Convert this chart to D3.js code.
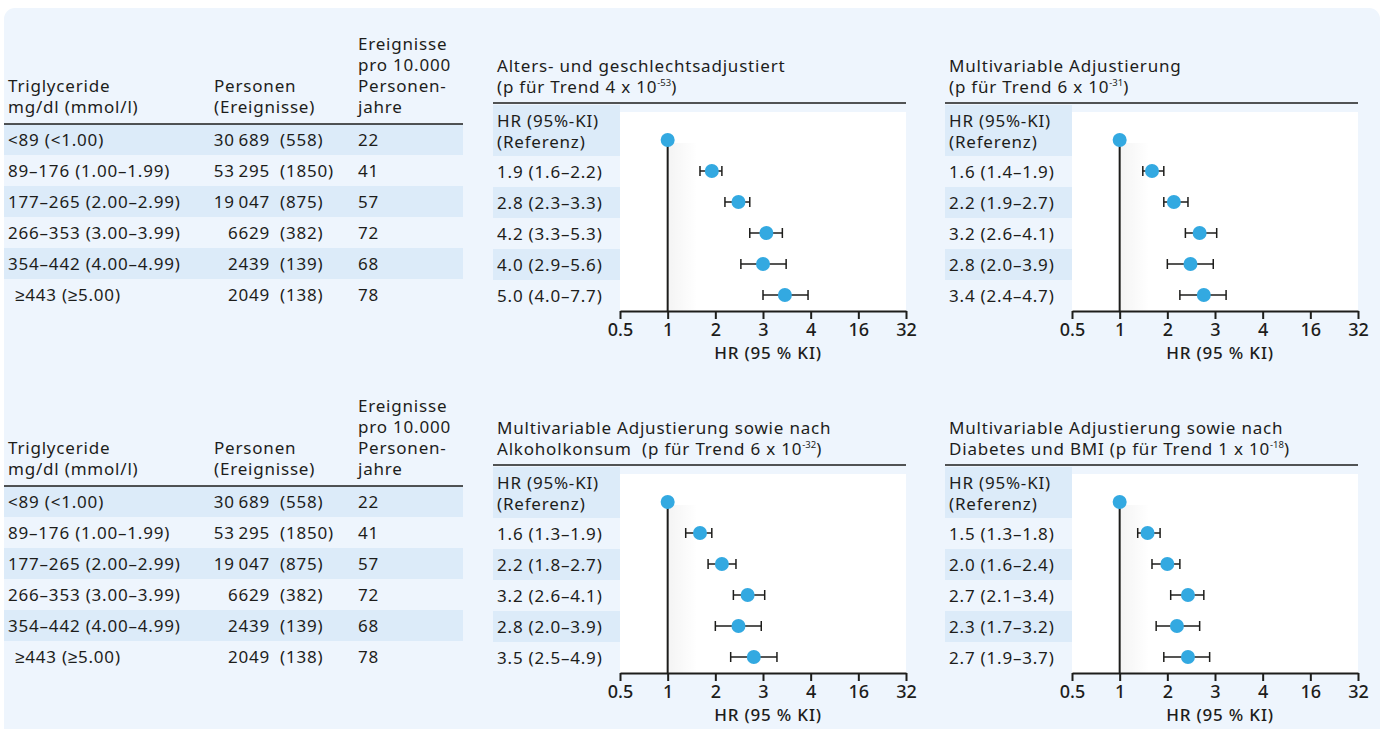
<!DOCTYPE html>
<html><head><meta charset="utf-8">
<script src="https://cdn.jsdelivr.net/npm/d3@7"></script>
<style>
html,body{margin:0;padding:0;background:#fff;}
svg{display:block;}
text{font-family:"Noto Sans",sans-serif;fill:#1d1d1b;}
</style></head>
<body>
<script>
// ---- data ----
const categories = ["<89 (<1.00)","89–176 (1.00–1.99)","177–265 (2.00–2.99)","266–353 (3.00–3.99)","354–442 (4.00–4.99)","≥443 (≥5.00)"];
const persons = ["30\u2009689","53\u2009295","19\u2009047","6629","2439","2049"];
const events = [558,1850,875,382,139,138];
const ratePer10000 = [22,41,57,72,68,78];

const axisTickValues = [0.5,1,2,4,8,16,32];
const axisTickLabels = ["0.5","1","2","3","4","16","32"];

const panelTitles = [
  ["Alters- und geschlechtsadjustiert", ["(p für Trend 4 x 10", "-53", ")"]],
  ["Multivariable Adjustierung", ["(p für Trend 6 x 10", "-31", ")"]],
  ["Multivariable Adjustierung sowie nach", ["Alkoholkonsum\u00a0 (p für Trend 6 x 10", "-32", ")"]],
  ["Multivariable Adjustierung sowie nach", ["Diabetes und BMI (p für Trend 1 x 10", "-18", ")"]]
];
// HR labels as printed
const hrLabels1 = ["1.9 (1.6–2.2)","2.8 (2.3–3.3)","4.2 (3.3–5.3)","4.0 (2.9–5.6)","5.0 (4.0–7.7)"];
const hrLabels2 = ["1.6 (1.4–1.9)","2.2 (1.9–2.7)","3.2 (2.6–4.1)","2.8 (2.0–3.9)","3.4 (2.4–4.7)"];
const hrLabels3 = ["1.6 (1.3–1.9)","2.2 (1.8–2.7)","3.2 (2.6–4.1)","2.8 (2.0–3.9)","3.5 (2.5–4.9)"];
const hrLabels4 = ["1.5 (1.3–1.8)","2.0 (1.6–2.4)","2.7 (2.1–3.4)","2.3 (1.7–3.2)","2.7 (1.9–3.7)"];
// plotted estimates and CIs (as read from the marks)
const hr1 = [1.9,2.8,4.2,4.0,5.5], lo1 = [1.6,2.3,3.3,2.9,4.0], hi1 = [2.2,3.3,5.3,5.6,7.7];
const hr2 = [1.6,2.2,3.2,2.8,3.4], lo2 = [1.4,1.9,2.6,2.0,2.4], hi2 = [1.9,2.7,4.1,3.9,4.7];
const hr3 = [1.6,2.2,3.2,2.8,3.5], lo3 = [1.3,1.8,2.6,2.0,2.5], hi3 = [1.9,2.7,4.1,3.9,4.9];
const hr4 = [1.5,2.0,2.7,2.3,2.7], lo4 = [1.3,1.6,2.1,1.7,1.9], hi4 = [1.8,2.4,3.4,3.2,3.7];
const referenceHR = 1;

// ---- drawing ----
const W = 1386, H = 729;
const BG = "#eef5fd", BAND = "#dcebf9", DOT = "#33a9e1", INK = "#1d1d1b";
const svg = d3.select("body").append("svg").attr("width", W).attr("height", H);
const defs = svg.append("defs");
const grad = defs.append("linearGradient").attr("id","shade").attr("x1","0").attr("x2","1").attr("y1","0").attr("y2","0");
grad.append("stop").attr("offset","0").attr("stop-color","#000").attr("stop-opacity",0.045);
grad.append("stop").attr("offset","1").attr("stop-color","#000").attr("stop-opacity",0);

svg.append("rect").attr("x",4).attr("y",8).attr("width",1376).attr("height",740).attr("rx",11).attr("fill",BG);

const FS = 17, LS = 0.8, ROWH = 31;
function txt(g, x, y, s){
  return g.append("text").attr("x",x).attr("y",y).attr("font-size",FS).attr("letter-spacing",LS).text(s);
}

function drawTable(y0){
  const g = svg.append("g");
  categories.forEach((c,i)=>{
    if(i%2===0) g.append("rect").attr("x",4).attr("y",y0+i*ROWH).attr("width",459).attr("height",ROWH).attr("fill",BAND);
  });
  g.append("line").attr("x1",4).attr("x2",463).attr("y1",y0).attr("y2",y0).attr("stroke",INK).attr("stroke-width",1.6);
  const hdr = (x, lines) => lines.forEach((t,k)=> txt(g, x, y0-11-21*(lines.length-1-k), t));
  hdr(8,["Triglyceride","mg/dl (mmol/l)"]);
  hdr(214,["Personen","(Ereignisse)"]);
  hdr(358,["Ereignisse","pro 10.000","Personen-","jahre"]);
  categories.forEach((c,i)=>{
    const yb = y0+i*ROWH+22;
    txt(g, i===5?15:8, yb, c);
    txt(g, 270, yb, persons[i]).attr("text-anchor","end");
    txt(g, 280, yb, "("+events[i]+")");
    txt(g, 358, yb, ratePer10000[i]);
  });
}

function drawForest(x0, y0, title, labels, hr, lo, hi){
  const g = svg.append("g");
  const px0 = x0+127, px1 = x0+413, axisY = y0+208;
  const x = d3.scaleLog().base(2).domain([0.5,32]).range([px0,px1]);
  txt(g, x0+4, y0-31, title[0]);
  const t2 = txt(g, x0+4, y0-10, "");
  t2.append("tspan").text(title[1][0]);
  t2.append("tspan").attr("font-size",9.5).attr("letter-spacing",0).attr("dy",-7).text(title[1][1]);
  t2.append("tspan").attr("dy",7).text(title[1][2]);
  g.append("line").attr("x1",x0).attr("x2",px1).attr("y1",y0).attr("y2",y0).attr("stroke",INK).attr("stroke-width",1.6);
  g.append("rect").attr("x",x0).attr("y",y0+2).attr("width",127).attr("height",51).attr("fill",BAND);
  [1,3].forEach(k=>g.append("rect").attr("x",x0).attr("y",y0+53+ROWH*k).attr("width",127).attr("height",ROWH).attr("fill",BAND));
  txt(g, x0+4, y0+24, "HR (95%-KI)");
  txt(g, x0+4, y0+45, "(Referenz)");
  labels.forEach((l,i)=> txt(g, x0+4, y0+75+ROWH*i, l));
  g.append("rect").attr("x",px0).attr("y",y0+9).attr("width",px1-px0).attr("height",axisY-y0-9).attr("fill","#fff");
  g.append("rect").attr("x",x(referenceHR)).attr("y",y0+40).attr("width",30).attr("height",axisY-y0-40).attr("fill","url(#shade)");
  g.append("line").attr("x1",x(referenceHR)).attr("x2",x(referenceHR)).attr("y1",y0+37).attr("y2",axisY).attr("stroke",INK).attr("stroke-width",2);
  g.append("circle").attr("cx",x(referenceHR)).attr("cy",y0+37).attr("r",7).attr("fill",DOT);
  hr.forEach((v,i)=>{
    const cy = y0+68+ROWH*i;
    g.append("line").attr("x1",x(lo[i])).attr("x2",x(hi[i])).attr("y1",cy).attr("y2",cy).attr("stroke",INK).attr("stroke-width",1.5);
    [lo[i],hi[i]].forEach(e=>g.append("line").attr("x1",x(e)).attr("x2",x(e)).attr("y1",cy-5).attr("y2",cy+5).attr("stroke",INK).attr("stroke-width",1.5));
    g.append("circle").attr("cx",x(v)).attr("cy",cy).attr("r",7).attr("fill",DOT);
  });
  const ax = g.append("g").attr("transform",`translate(0,${axisY})`)
    .call(d3.axisBottom(x).tickValues(axisTickValues).tickFormat((d,i)=>axisTickLabels[i]).tickSize(8).tickSizeOuter(0).tickPadding(4));
  ax.select(".domain").attr("stroke",INK).attr("stroke-width",2);
  ax.selectAll(".tick line").attr("stroke",INK).attr("stroke-width",2);
  ax.selectAll(".tick text").attr("font-size",18).attr("font-weight",500).attr("font-family","Noto Sans, sans-serif").attr("fill",INK);
  g.append("text").attr("x",(px0+px1)/2+5).attr("y",axisY+48).attr("text-anchor","middle").attr("font-size",17).attr("letter-spacing",0.8).attr("font-weight",500).text("HR (95 % KI)");
}

drawTable(124);
drawTable(486);
drawForest(493,103,panelTitles[0],hrLabels1,hr1,lo1,hi1);
drawForest(945,103,panelTitles[1],hrLabels2,hr2,lo2,hi2);
drawForest(493,465,panelTitles[2],hrLabels3,hr3,lo3,hi3);
drawForest(945,465,panelTitles[3],hrLabels4,hr4,lo4,hi4);
</script>
</body></html>
